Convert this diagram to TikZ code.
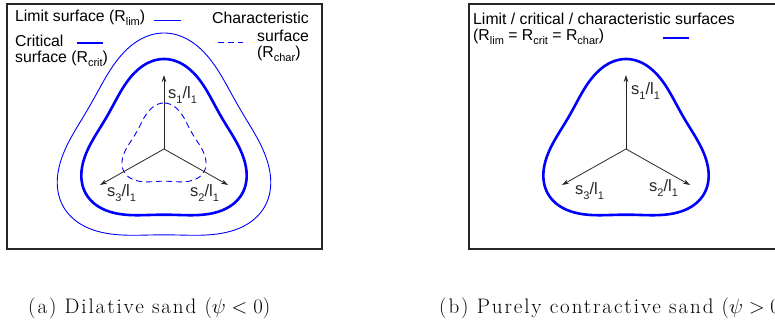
\documentclass[tikz,border=0pt]{standalone}
\usepackage{fontspec}
\setsansfont{Liberation Sans}
\newfontfamily\capfont{Latin Modern Roman}[LetterSpace=9]
\usetikzlibrary{arrows.meta}
\newcommand\lsub[1]{\raisebox{-0.5ex}{\fontsize{11}{11}\selectfont #1}}
\newcommand\ssub[1]{\raisebox{-0.5ex}{\fontsize{11}{11}\selectfont #1}}
\tikzset{
  panel/.style={draw=black!85, line width=1.1pt},
  legtext/.style={font=\sffamily\fontsize{15.8}{15.5}\selectfont, inner sep=0pt, anchor=west},
  axislabel/.style={font=\sffamily\fontsize{16.5}{16.5}\selectfont, inner sep=0pt, text=black!85},
  axis/.style={black!85, line width=0.8pt, -{Stealth[length=7pt,width=4.5pt]}},
  limsurf/.style={blue, line width=0.9pt},
  critsurf/.style={blue, line width=2.6pt},
  charsurf/.style={blue, line width=0.9pt, dash pattern=on 6pt off 4pt},
  caption/.style={font=\capfont\fontsize{21}{21}\selectfont, inner sep=0pt, anchor=base west}
}
\newcommand\surf[5]{% style, cx, cy, rc, k
  \draw[#1] plot[domain=0:360, samples=241, smooth cycle, variable=\t]
    ({#2 + #4*2*#5/((1+#5)-(1-#5)*cos(3*\t))*sin(\t)},
     {#3 - #4*2*#5/((1+#5)-(1-#5)*cos(3*\t))*cos(\t)});
}
\begin{document}
\begin{tikzpicture}[x=1pt, y=-1pt]
\useasboundingbox (0,0) rectangle (775,326);
\clip (0,0) rectangle (775,326);
% ---------- left panel ----------
\draw[panel] (7,4) rectangle (322,249);
\surf{limsurf}{164}{149}{116}{0.74}
\surf{critsurf}{164}{149}{90}{0.73}
\surf{charsurf}{164}{149}{46}{0.70}
\coordinate (O1) at (164,149);
\coordinate (A1) at (164,75);
\coordinate (B1) at (228,185);
\coordinate (C1) at (100,185);
\draw[axis] (O1) -- (A1);
\draw[axis] (O1) -- (B1);
\draw[axis] (O1) -- (C1);
\node[axislabel, anchor=west] (la1) at (168,95) {s\ssub{1}/l\ssub{1}};
\node[axislabel, anchor=west] (lb1) at (190,193) {s\ssub{2}/l\ssub{1}};
\node[axislabel, anchor=west] (lc1) at (107,193) {s\ssub{3}/l\ssub{1}};
% legend
\node[legtext] (t1) at (15,18) {Limit surface (R\lsub{lim})};
\coordinate (l1a) at (154,20); \coordinate (l1b) at (181,20);
\draw[limsurf] (l1a) -- (l1b);
\node[legtext, align=left] (t2) at (15,51) {Critical\\surface (R\lsub{crit})};
\coordinate (l2a) at (77,43); \coordinate (l2b) at (103,43);
\draw[critsurf] (l2a) -- (l2b);
\node[legtext] (t4) at (212,18) {Characteristic};
\node[legtext, align=left] (t5) at (257,46) {surface\\(R\lsub{char})};
\coordinate (l3a) at (218,42); \coordinate (l3b) at (243,42);
\draw[charsurf] (l3a) -- (l3b);
% ---------- right panel ----------
\draw[panel] (469,4) rectangle (790,249);
\surf{critsurf}{626}{149}{90}{0.73}
\coordinate (O2) at (626,149);
\coordinate (A2) at (626,75);
\coordinate (B2) at (690,185);
\coordinate (C2) at (562,185);
\draw[axis] (O2) -- (A2);
\draw[axis] (O2) -- (B2);
\draw[axis] (O2) -- (C2);
\node[axislabel, anchor=west] (la2) at (631,91) {s\ssub{1}/l\ssub{1}};
\node[axislabel, anchor=west] (lb2) at (649,188) {s\ssub{2}/l\ssub{1}};
\node[axislabel, anchor=west] (lc2) at (575,191) {s\ssub{3}/l\ssub{1}};
\node[legtext, align=left] (t7) at (473,29) {Limit / critical / characteristic surfaces\\(R\lsub{lim} = R\lsub{crit} = R\lsub{char})};
\coordinate (l4a) at (663,38); \coordinate (l4b) at (689,38);
\draw[critsurf] (l4a) -- (l4b);
% ---------- captions ----------
\node[caption] (capa) at (28,313) {(a)\ Dilative sand ($\psi<0$)};
\node[caption] (capb) at (439,313) {(b)\ Purely contractive sand ($\psi>0$)};
\end{tikzpicture}
\end{document}
